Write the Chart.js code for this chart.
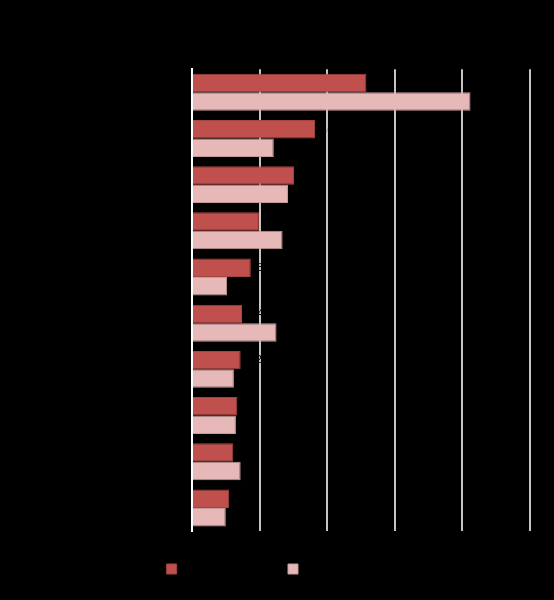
<!DOCTYPE html>
<html>
<head>
<meta charset="utf-8">
<script src="https://cdn.jsdelivr.net/npm/chart.js@4/dist/chart.umd.min.js"></script>
<style>
    html, body { margin: 0; padding: 0; background: #000; }
    #wrap { width: 554px; height: 600px; }
</style>
</head>
<body>
<div id="wrap"><canvas id="barChart"></canvas></div>
<script>
    const categories = ['Category 1', 'Category 2', 'Category 3', 'Category 4', 'Category 5',
        'Category 6', 'Category 7', 'Category 8', 'Category 9', 'Category 10'];
    const seriesNames = ['Previous year (%)', 'Latest year'];
    const previousValues = [25.8, 18.2, 15.1, 9.9, 8.7, 7.4, 7.2, 6.7, 6.1, 5.5];
    const currentValues = [41.2, 12.1, 14.2, 13.4, 5.2, 12.5, 6.2, 6.5, 7.2, 5.0];
    const xTicks = [0, 10, 20, 30, 40, 50];

    // black value labels next to the dark bars
    const valueLabels = {
        id: 'valueLabels',
        afterDatasetsDraw(chart) {
            const ctx = chart.ctx;
            const meta = chart.getDatasetMeta(0);
            ctx.save();
            ctx.fillStyle = '#000';
            ctx.font = '11px "Liberation Sans", Arial, sans-serif';
            ctx.textBaseline = 'middle';
            meta.data.forEach((bar, i) => {
                ctx.fillText(previousValues[i].toFixed(1), bar.x + 6, bar.y);
            });
            ctx.restore();
        }
    };

    new Chart(document.getElementById('barChart').getContext('2d'), {
        type: 'bar',
        data: {
            labels: categories,
            datasets: [
                {
                    label: seriesNames[0],
                    data: previousValues,
                    backgroundColor: '#c0504d',
                    borderColor: '#a54441',
                    borderWidth: 1,
                    categoryPercentage: 0.8,
                    barPercentage: 1.0,
                },
                {
                    label: seriesNames[1],
                    data: currentValues,
                    backgroundColor: '#e6b9b8',
                    borderColor: '#c49c9b',
                    borderWidth: 1,
                    categoryPercentage: 0.8,
                    barPercentage: 1.0,
                }
            ]
        },
        options: {
            indexAxis: 'y',
            responsive: true,
            maintainAspectRatio: false,
            animation: false,
            layout: {
                padding: { top: 26, right: 24, bottom: 15, left: 0 }
            },
            plugins: {
                title: {
                    display: true,
                    text: 'Comparison by category',
                    color: '#000',
                    font: { size: 16, family: '"Liberation Sans", Arial, sans-serif', weight: 'bold' },
                    padding: { top: 4, bottom: 20 }
                },
                legend: {
                    position: 'bottom',
                    labels: {
                        color: '#000',
                        boxWidth: 10,
                        boxHeight: 10,
                        padding: 10,
                        font: { size: 12, family: '"Liberation Sans", Arial, sans-serif' }
                    }
                },
                tooltip: { enabled: false }
            },
            scales: {
                x: {
                    min: 0,
                    max: 50,
                    afterBuildTicks: (scale) => {
                        scale.ticks = xTicks.map(v => ({ value: v }));
                    },
                    grid: { color: '#c4c4c4', lineWidth: 2, drawTicks: false },
                    border: { display: false },
                    ticks: {
                        color: '#000',
                        padding: 8,
                        font: { size: 11, family: '"Liberation Sans", Arial, sans-serif' }
                    },
                    afterFit: (scale) => { scale.height = 22; }
                },
                y: {
                    grid: { display: false, drawTicks: false },
                    border: { display: true, color: '#ffffff', width: 2 },
                    ticks: {
                        color: '#000',
                        padding: 8,
                        font: { size: 11, family: '"Liberation Sans", Arial, sans-serif' }
                    },
                    afterFit: (scale) => { scale.width = 192; }
                }
            }
        },
        plugins: [valueLabels]
    });
</script>
</body>
</html>
